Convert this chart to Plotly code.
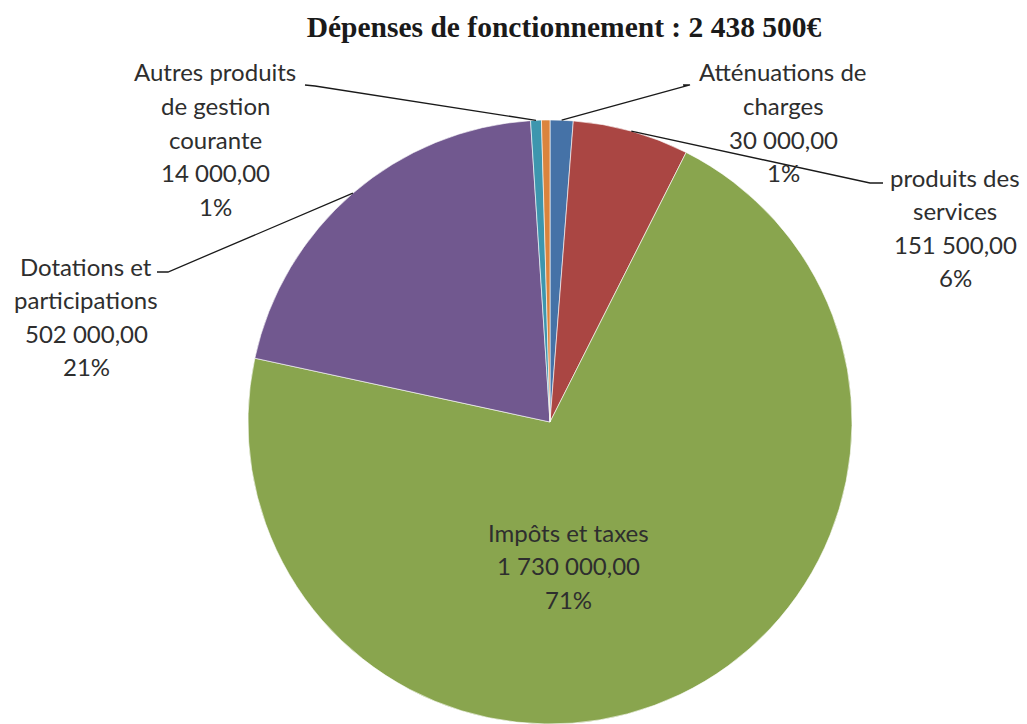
import math
import plotly.graph_objects as go

# ---------------- data ----------------
categories = [
    "Atténuations de charges",
    "produits des services",
    "Impôts et taxes",
    "Dotations et participations",
    "Autres produits de gestion courante",
    "Autres charges",
]
values = [30000, 151500, 1730000, 502000, 14000, 11000]
label_wrap = [
    ["Atténuations de", "charges"],
    ["produits des", "services"],
    ["Impôts et taxes"],
    ["Dotations et", "participations"],
    ["Autres produits", "de gestion", "courante"],
    None,
]
title_text = "Dépenses de fonctionnement : 2 438 500€"

# ---------------- style / layout ----------------
colors = ["#4572A7", "#AA4643", "#89A54E", "#71588F", "#3D96AE", "#DB843D"]
W, H = 1027, 724
cx, cy, R = 550, 422, 302
label_font = dict(family="Lato, Open Sans, sans-serif", size=24, color="#2e2e2e")
line_gap = 33.6
# label anchor: (center x px, first line center y px)
label_pos = [(783, 72), (955, 177), (568, 532), (86, 266), (215, 72), None]
# leader lines: elbow points (px) from the text end to the slice edge
leader_pts = [
    [(683, 85), (690, 85)],
    [(883, 183), (870, 183)],
    None,
    [(157, 272), (168, 272)],
    [(305, 85), (315, 86)],
    None,
]

total = sum(values)


def fr_num(v):
    return f"{v:,.2f}".replace(",", " ").replace(".", ",")


def px2paper(x, y):
    return x / W, 1 - y / H


fig = go.Figure()
fig.add_trace(go.Pie(
    labels=categories,
    values=values,
    sort=False,
    direction="clockwise",
    rotation=0,
    textinfo="none",
    marker=dict(colors=colors, line=dict(color="rgba(255,255,255,0.6)", width=1)),
    domain=dict(x=[(cx - R) / W, (cx + R) / W],
                y=[(H - cy - R) / H, (H - cy + R) / H]),
    showlegend=False,
))

annotations = []
shapes = []
cum = 0
for i, v in enumerate(values):
    mid = (cum + v / 2) / total * 2 * math.pi
    cum += v
    if label_wrap[i] is None:
        continue
    lines = label_wrap[i] + [fr_num(v), f"{round(v / total * 100)}%"]
    lx, ly = label_pos[i]
    for k, t in enumerate(lines):
        xp, yp = px2paper(lx, ly + k * line_gap)
        annotations.append(dict(
            x=xp, y=yp, xref="paper", yref="paper", text=t, showarrow=False,
            xanchor="center", yanchor="middle", font=label_font,
        ))
    if leader_pts[i] is not None:
        ex = cx + R * math.sin(mid)
        ey = cy - R * math.cos(mid)
        pts = leader_pts[i] + [(ex, ey)]
        path = ""
        for j, (x, y) in enumerate(pts):
            xp, yp = px2paper(x, y)
            path += ("M" if j == 0 else " L") + f" {xp:.5f},{yp:.5f}"
        shapes.append(dict(type="path", path=path, xref="paper", yref="paper",
                           line=dict(color="#1a1a1a", width=1.3)))

fig.update_layout(
    width=W, height=H,
    margin=dict(l=0, r=0, t=0, b=0),
    paper_bgcolor="white", plot_bgcolor="white",
    title=dict(text=f"<b>{title_text}</b>", x=564 / W, xanchor="center",
               y=1 - 27 / H, yanchor="middle", yref="container",
               font=dict(family="Liberation Serif, Times New Roman, serif", size=29.5, color="#1a1a1a")),
    annotations=annotations,
    shapes=shapes,
)

fig.write_html("out.html", config={"displayModeBar": False},
               post_script="document.body.style.margin='0';document.body.style.overflow='hidden';")
